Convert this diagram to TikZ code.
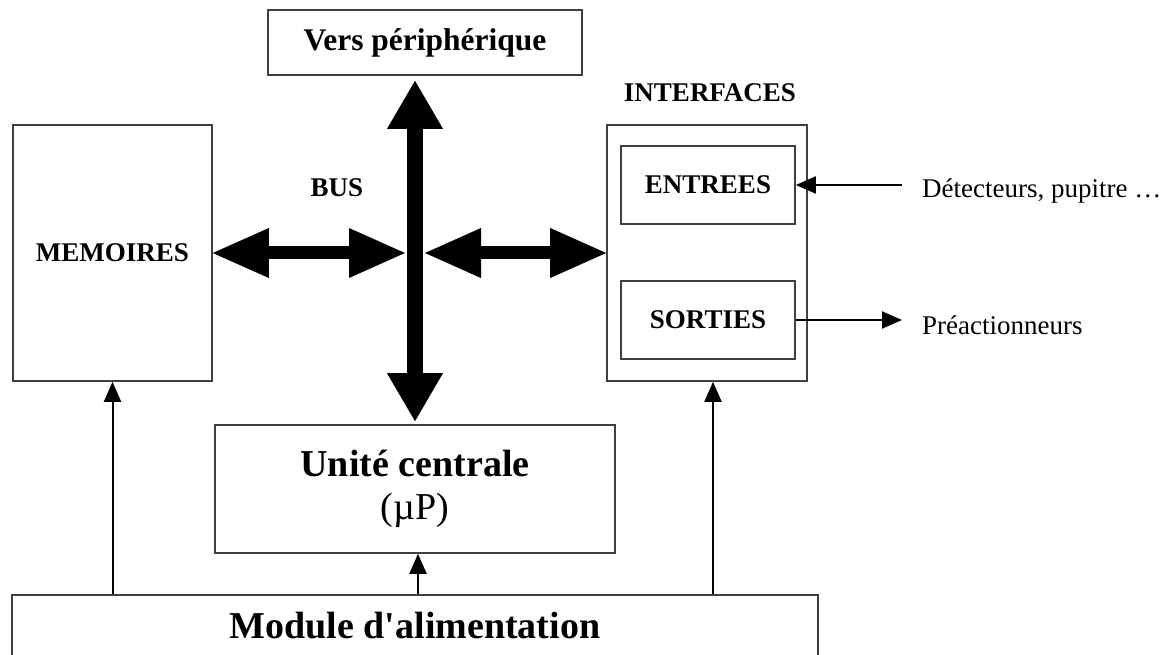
\documentclass[tikz,border=0pt]{standalone}
\usepackage{fontspec}
\setmainfont{Liberation Serif}
\usetikzlibrary{positioning,arrows.meta,calc}
\newcommand{\smallfnt}{\fontsize{27}{31}\selectfont}
\newcommand{\versfnt}{\fontsize{31.5}{35}\selectfont\bfseries}
\newcommand{\bigfnt}{\fontsize{38}{41}\selectfont\bfseries}
\tikzset{
  blk/.style={draw=black!75, line width=1.6pt, inner sep=0pt, align=center},
  lab/.style={inner sep=0pt, font=\smallfnt\bfseries},
  txt/.style={inner sep=0pt, font=\smallfnt},
  busv/.style={line width=16pt,
               {Triangle[length=48pt,width=56pt,line width=0pt]}-{Triangle[length=48pt,width=56pt,line width=0pt]}},
  bush/.style={line width=13pt,
               {Triangle[length=56pt,width=50pt,line width=0pt]}-{Triangle[length=56pt,width=50pt,line width=0pt]}},
  sigarr/.style={-{Triangle[length=20pt,width=17pt]}, line width=2pt},
}

\begin{document}
\begin{tikzpicture}[x=1pt, y=-1pt]
  \useasboundingbox (0,0) rectangle (1168,655);
  \clip (0,0) rectangle (1168,655);
  % blocks
  \node[blk, minimum width=314pt, minimum height=65pt, font=\versfnt] (vers) at (425,42.5) {Vers périphérique};
  \node[blk, lab, minimum width=199pt, minimum height=256pt] (mem) at (112.5,253) {MEMOIRES};
  \node[blk, minimum width=200pt, minimum height=256pt] (iface) at (707,253) {};
  \node[lab] (ifacelab) at (710,93) {INTERFACES};
  \node[blk, lab, minimum width=174pt, minimum height=78pt] (ent) at (708,185) {ENTREES};
  \node[blk, lab, minimum width=174pt, minimum height=78pt] (sor) at (708,320) {SORTIES};
  \node[blk, font=\bigfnt, minimum width=400pt, minimum height=128pt] (uc) at (415,489)
       {Unité centrale\\[2pt]{\mdseries (µP)}};
  \node[blk, font=\bigfnt, minimum width=806pt, minimum height=62pt] (alim) at (415,626)
       {Module d\textquotesingle alimentation};
  % bus
  \coordinate (bus) at (415,253);
  \node[lab] (buslab) at (337,188) {BUS};
  \draw[busv, shorten <=5pt, shorten >=3pt] (vers.south -| bus) -- (uc.north -| bus);
  \draw[bush, shorten >=10pt] (mem.east) -- (bus);
  \draw[bush, shorten <=10pt] (bus) -- (iface.west);
  % alimentation
  \draw[sigarr] (alim.north -| mem.south) -- (mem.south);
  \draw[sigarr] ([xshift=3pt]alim.north -| uc.south) -- ([xshift=3pt]uc.south);
  \draw[sigarr] ([xshift=6pt]alim.north -| iface.south) -- ([xshift=6pt]iface.south);
  % entrees / sorties
  \node[txt, anchor=west, inner xsep=20pt] (det) at (902,191) {Détecteurs, pupitre …};
  \node[txt, anchor=west, inner xsep=20pt] (pre) at (902,325) {Préactionneurs};
  \draw[sigarr] (det.west |- ent.east) -- (ent.east);
  \draw[sigarr] (sor.east) -- (sor.east -| pre.west);
\end{tikzpicture}
\end{document}
